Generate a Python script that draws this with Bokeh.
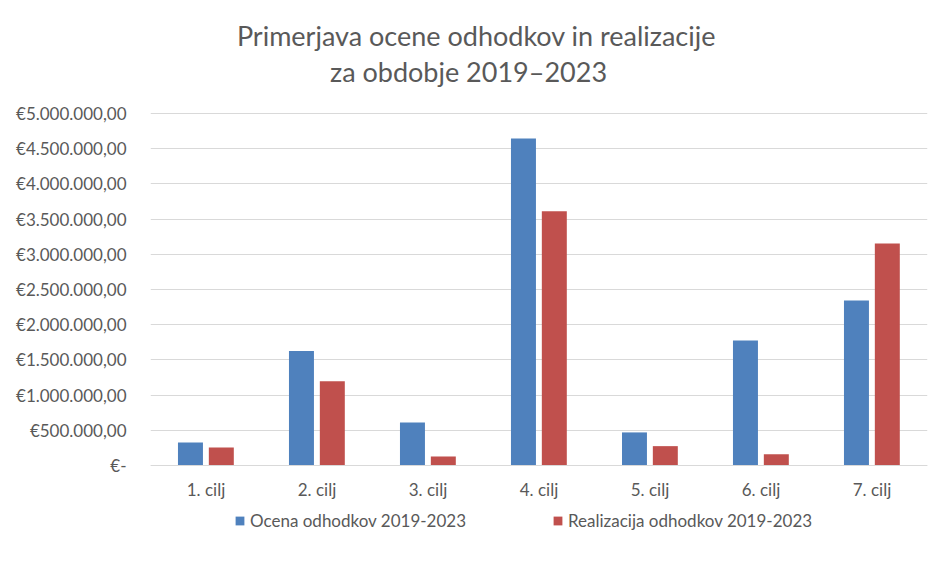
from bokeh.plotting import figure
from bokeh.models import (FactorRange, Range1d, ColumnDataSource, Legend, LegendItem,
                          FixedTicker, Label)
from bokeh.transform import dodge
from bokeh.embed import file_html
from bokeh.resources import INLINE

# ---- data ----
categories = ["1. cilj", "2. cilj", "3. cilj", "4. cilj", "5. cilj", "6. cilj", "7. cilj"]
ocena = [325000, 1625000, 610000, 4645000, 470000, 1775000, 2345000]
realizacija = [255000, 1195000, 128000, 3610000, 275000, 160000, 3155000]
series_names = ["Ocena odhodkov 2019-2023", "Realizacija odhodkov 2019-2023"]
y_ticks = [0, 500000, 1000000, 1500000, 2000000, 2500000, 3000000,
           3500000, 4000000, 4500000, 5000000]
y_tick_labels = ["€-", "€500.000,00", "€1.000.000,00", "€1.500.000,00", "€2.000.000,00",
                 "€2.500.000,00", "€3.000.000,00", "€3.500.000,00", "€4.000.000,00",
                 "€4.500.000,00", "€5.000.000,00"]
title_lines = ["Primerjava ocene odhodkov in realizacije", "za obdobje 2019–2023"]

FONT = "Lato"
TXT = "#595959"
BLUE = "#4F81BD"
RED = "#C0504D"

# layout (pixels): the frame spans the full canvas height;
# the value axis runs from y=465 (zero) up to y=113 (maximum)
W, H = 934, 546
LEFT, RIGHT = 150, 7
ZERO_Y, TOP_Y = 465, 113
px_per_unit = (ZERO_Y - TOP_Y) / y_ticks[-1]
y_start = -(H - ZERO_Y) / px_per_unit
y_end = ZERO_Y / px_per_unit

source = ColumnDataSource(dict(cat=categories, ocena=ocena, realizacija=realizacija))

p = figure(x_range=FactorRange(factors=categories, range_padding=0),
           y_range=Range1d(y_start, y_end),
           width=W, height=H, output_backend="svg", toolbar_location=None,
           min_border_left=LEFT, min_border_right=RIGHT, min_border_top=0,
           min_border_bottom=0, title=None)
p.outline_line_color = None
p.background_fill_color = "white"
p.border_fill_color = "white"

r1 = p.vbar(x=dodge("cat", -0.14, range=p.x_range), top="ocena", width=0.225,
            source=source, fill_color=BLUE, line_color=None)
r2 = p.vbar(x=dodge("cat", 0.138, range=p.x_range), top="realizacija", width=0.225,
            source=source, fill_color=RED, line_color=None)

# axes
p.yaxis.ticker = FixedTicker(ticks=y_ticks)
p.yaxis.major_label_overrides = {t: l for t, l in zip(y_ticks, y_tick_labels)}
p.yaxis.axis_line_color = None
p.yaxis.major_tick_line_color = None
p.yaxis.minor_tick_line_color = None
p.yaxis.major_label_standoff = 18
p.yaxis.major_label_text_font = FONT
p.yaxis.major_label_text_font_size = "17px"
p.yaxis.major_label_text_color = TXT

p.xaxis.fixed_location = 0
p.xaxis.axis_line_color = "#D9D9D9"
p.xaxis.major_tick_line_color = None
p.xaxis.minor_tick_line_color = None
p.xaxis.major_label_standoff = 7
p.xaxis.major_label_text_font = FONT
p.xaxis.major_label_text_font_size = "17px"
p.xaxis.major_label_text_color = TXT

p.ygrid.grid_line_color = "#D9D9D9"
p.xgrid.grid_line_color = None

# title (two lines), positioned in screen px from the frame's bottom-left
for txt, xx, yy in zip(title_lines, [326, 318], [H - 35, H - 71]):
    p.add_layout(Label(x=xx, y=yy, x_units="screen", y_units="screen", text=txt,
                       text_align="center", text_baseline="middle",
                       text_font=FONT, text_font_size="27px", text_color=TXT))

legend = Legend(items=[LegendItem(label=series_names[0], renderers=[r1]),
                       LegendItem(label=series_names[1], renderers=[r2])],
                orientation="horizontal", location=(84, 15),
                glyph_width=11, glyph_height=11, label_standoff=5, spacing=86,
                label_height=20, padding=0, margin=0, border_line_color=None,
                background_fill_alpha=0,
                label_text_font=FONT, label_text_font_size="17px", label_text_color=TXT)
p.add_layout(legend, "center")

open("out.html", "w").write(file_html(p, INLINE))
